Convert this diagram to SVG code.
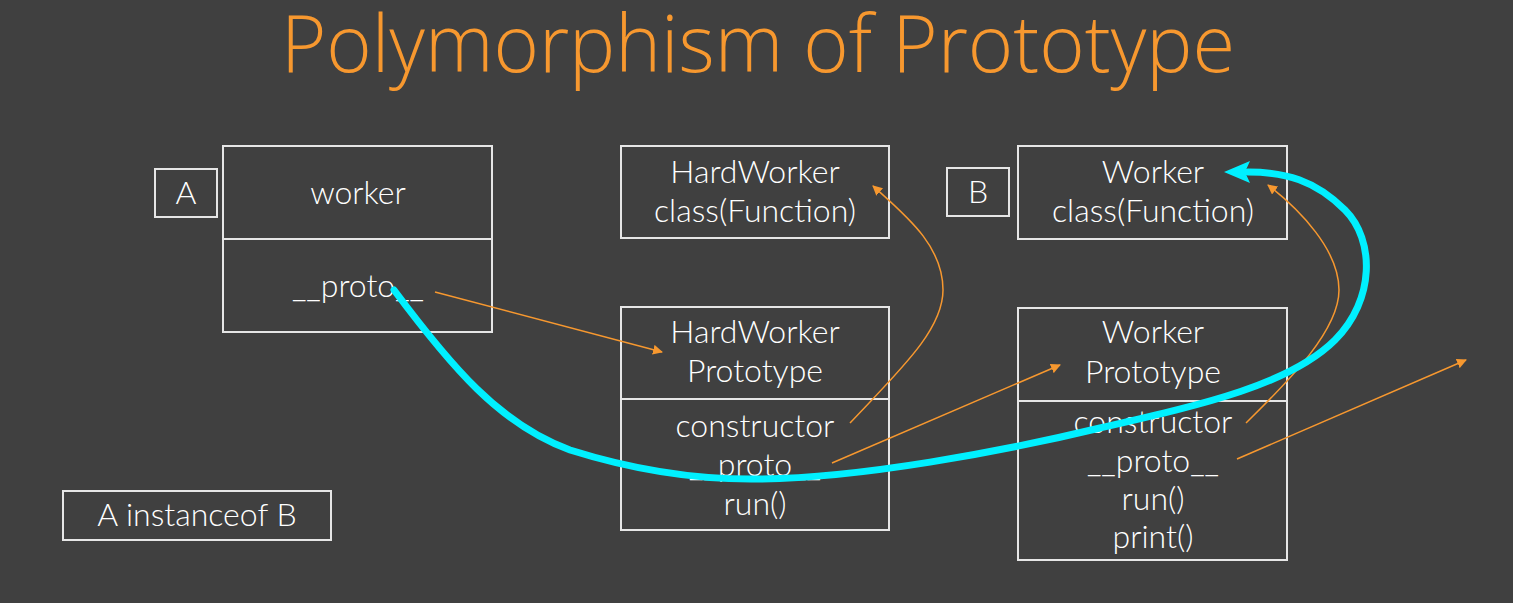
<svg xmlns="http://www.w3.org/2000/svg" width="1513" height="603" viewBox="0 0 1513 603">
<defs>
<style>
.box{fill:none;stroke:#E6E6E6;stroke-width:2}
.t{font-family:Lato,"Open Sans","Liberation Sans",sans-serif;font-weight:300;font-size:32px;fill:#FFFFFF;text-anchor:middle}
.title{font-family:"Open Sans","Liberation Sans",sans-serif;font-weight:300;font-size:80px;fill:#F7982F}
.or{fill:none;stroke:#F7982F;stroke-width:1.5}
.cy{fill:none;stroke:#00F0FF;stroke-width:7;stroke-linecap:round}
</style>
<marker id="ah" viewBox="0 0 10 10" refX="9" refY="5" markerWidth="10" markerHeight="10" markerUnits="userSpaceOnUse" orient="auto">
<path d="M0,0 L10,5 L0,10 Z" fill="#F7982F"/>
</marker>
</defs>
<rect width="1513" height="603" fill="#404040"/>
<text class="title" x="281" y="72" textLength="954" lengthAdjust="spacingAndGlyphs">Polymorphism of Prototype</text>

<g id="labelA">
<rect class="box" x="155" y="169" width="62" height="48"/>
<text class="t" x="186" y="204">A</text>
</g>
<g id="worker">
<rect class="box" x="223" y="146" width="269" height="186"/>
<line class="box" x1="223" y1="239" x2="492" y2="239"/>
<text class="t" x="358" y="204">worker</text>
<text class="t" x="358" y="297">__proto__</text>
</g>
<g id="hwClass">
<rect class="box" x="621" y="146" width="268" height="92"/>
<text class="t" x="755" y="183">HardWorker</text>
<text class="t" x="755" y="222">class(Function)</text>
</g>
<g id="hwProto">
<rect class="box" x="621" y="307" width="268" height="223"/>
<line class="box" x1="621" y1="399" x2="889" y2="399"/>
<text class="t" x="755" y="343">HardWorker</text>
<text class="t" x="755" y="382">Prototype</text>
<text class="t" x="755" y="437">constructor</text>
<text class="t" x="755" y="476">__proto__</text>
<text class="t" x="755" y="515">run()</text>
</g>
<g id="labelB">
<rect class="box" x="947" y="168" width="62" height="48"/>
<text class="t" x="978" y="203">B</text>
</g>
<g id="wClass">
<rect class="box" x="1018" y="146" width="269" height="93"/>
<text class="t" x="1153" y="183">Worker</text>
<text class="t" x="1153" y="222">class(Function)</text>
</g>
<g id="wProto">
<rect class="box" x="1018" y="308" width="269" height="252"/>
<line class="box" x1="1018" y1="401" x2="1287" y2="401"/>
<text class="t" x="1153" y="343">Worker</text>
<text class="t" x="1153" y="383">Prototype</text>
<text class="t" x="1153" y="433">constructor</text>
<text class="t" x="1153" y="472">__proto__</text>
<text class="t" x="1153" y="510">run()</text>
<text class="t" x="1153" y="548">print()</text>
</g>
<g id="instanceof">
<rect class="box" x="63" y="491" width="268" height="49"/>
<text class="t" x="197" y="526">A instanceof B</text>
</g>

<g id="connectors">
<line class="or" x1="435" y1="292" x2="662" y2="352" marker-end="url(#ah)"/>
<path class="or" d="M850,423 C900,370 943,330 943,290 C943,245 905,215 873,186" marker-end="url(#ah)"/>
<line class="or" x1="832" y1="463" x2="1060" y2="365" marker-end="url(#ah)"/>
<path class="or" d="M1246,423 C1290,380 1339,330 1339,290 C1339,250 1300,210 1268,185" marker-end="url(#ah)"/>
<line class="or" x1="1237" y1="459" x2="1466" y2="360" marker-end="url(#ah)"/>
<path class="cy" d="M394,290 C450,365 500,425 570,450 C640,472 700,480 760,479 C860,478 1000,452 1100,428 C1200,405 1290,385 1335,340 C1375,300 1375,240 1345,210 C1315,180 1285,172 1248,172"/>
<path d="M1224,172 L1250,161 L1245,172 L1250,183 Z" fill="#00F0FF"/>
</g>
</svg>
